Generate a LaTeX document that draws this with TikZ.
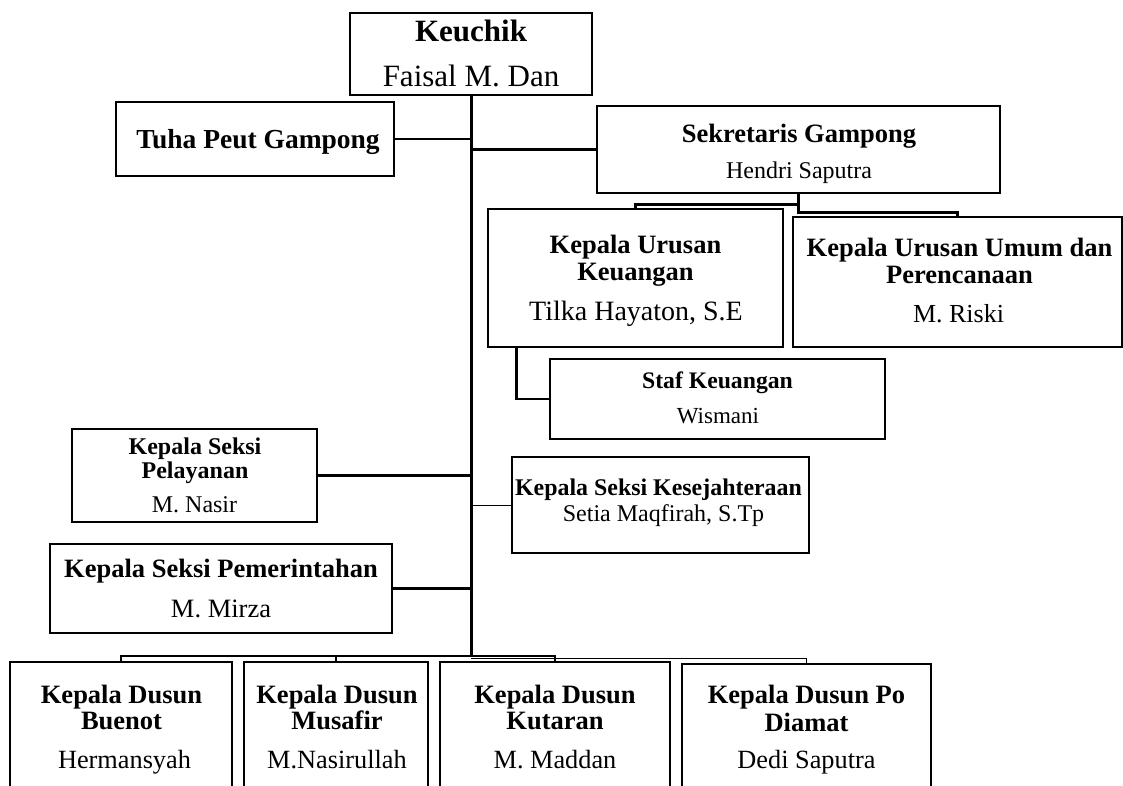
\documentclass[tikz,border=0pt]{standalone}
\usepackage{fontspec}
\setmainfont{Liberation Serif}
\usetikzlibrary{calc}
\newcommand\fsz[1]{\fontsize{#1}{#1}\selectfont}
\tikzset{
  box/.style={draw, rectangle, line width=2.7pt, inner sep=0pt, fill=white},
  conn/.style={line width=2.4pt},
  thinconn/.style={line width=1pt},
  trunk/.style={line width=3pt},
  txt/.style={anchor=base, inner sep=0pt, outer sep=0pt},
}
\begin{document}
\begin{tikzpicture}[x=1pt, y=-1pt]
\useasboundingbox (0,0) rectangle (1123,785);
\clip (0,0) rectangle (1123,785);
% box frames
\node[box, minimum width=242, minimum height=82] (kec) at (471,54) {};
\node[box, minimum width=278, minimum height=74] (tuha) at (255,139) {};
\node[box, minimum width=403, minimum height=87] (sek) at (798.5,149.5) {};
\node[box, minimum width=295, minimum height=138] (keu) at (635.5,278) {};
\node[box, minimum width=329, minimum height=130] (umum) at (957.5,282) {};
\node[box, minimum width=335, minimum height=80] (staf) at (717.5,399) {};
\node[box, minimum width=245, minimum height=93] (pel) at (194.5,475.5) {};
\node[box, minimum width=342, minimum height=89] (pem) at (221,588.5) {};
\node[box, minimum width=297, minimum height=96] (kes) at (660.5,505) {};
\node[box, minimum width=222, minimum height=158] (bue) at (121,741) {};
\node[box, minimum width=184, minimum height=158] (mus) at (336,741) {};
\node[box, minimum width=230, minimum height=158] (kut) at (555,741) {};
\node[box, minimum width=249, minimum height=156] (pod) at (806.5,742) {};
% connector points
\coordinate (tb) at (471,656);
\coordinate (tb2) at (471,658);
% connectors
\draw[trunk] (kec.south) -- (tb);
\draw[conn] (tuha.east) -- (tuha.east -| kec.south);
\draw[conn] (sek.west) -- (sek.west -| kec.south);
\draw[conn] (sek.south) -- ++(0,10) -| (keu.north);
\draw[conn] (sek.south) -- ++(0,18) -| (umum.north);
\draw[conn] ($(keu.south west)+(30,0)$) |- (staf.west);
\draw[conn] (pel.east) -- (pel.east -| kec.south);
\draw[conn] (pem.east) -- (pem.east -| kec.south);
\draw[thinconn] (kes.west) -- (kes.west -| kec.south);
\draw[conn] (bue.north) |- (tb);
\draw[conn] (mus.north) |- (tb);
\draw[conn] (kut.north) |- (tb);
\draw[thinconn] (pod.north) |- (tb2);
% texts
\node[txt] (kec1) at (471,41) {\fsz{31}\bfseries Keuchik};
\node[txt] (kec2) at (471,86) {\fsz{31}Faisal M. Dan};
\node[txt] (tuha1) at (258,148) {\fsz{27.5}\bfseries Tuha Peut Gampong};
\node[txt] (sek1) at (799,142) {\fsz{26.5}\bfseries Sekretaris Gampong};
\node[txt] (sek2) at (799,178) {\fsz{24}Hendri Saputra};
\node[txt] (keu1) at (635.5,253) {\fsz{26.5}\bfseries Kepala Urusan};
\node[txt] (keu2) at (635.5,280) {\fsz{26.5}\bfseries Keuangan};
\node[txt] (keu3) at (636,320) {\fsz{28}Tilka Hayaton, S.E};
\node[txt] (umum1) at (959.5,256) {\fsz{26.5}\bfseries Kepala Urusan Umum dan};
\node[txt] (umum2) at (959.5,283) {\fsz{26.5}\bfseries Perencanaan};
\node[txt] (umum3) at (958.5,322) {\fsz{26}M. Riski};
\node[txt] (staf1) at (717.5,388) {\fsz{23.7}\bfseries Staf Keuangan};
\node[txt] (staf2) at (718,423) {\fsz{23}Wismani};
\node[txt] (pel1) at (195,454) {\fsz{24}\bfseries Kepala Seksi};
\node[txt] (pel2) at (195,478) {\fsz{24}\bfseries Pelayanan};
\node[txt] (pel3) at (194.5,512) {\fsz{24}M. Nasir};
\node[txt] (pem1) at (221,577) {\fsz{26.5}\bfseries Kepala Seksi Pemerintahan};
\node[txt] (pem2) at (221,617) {\fsz{26.5}M. Mirza};
\node[txt] (kes1) at (658.5,495) {\fsz{23.9}\bfseries Kepala Seksi Kesejahteraan};
\node[txt] (kes2) at (663.5,521) {\fsz{24}Setia Maqfirah, S.Tp};
\node[txt] (bue1) at (121.5,703) {\fsz{26.5}\bfseries Kepala Dusun};
\node[txt] (bue2) at (121.5,729) {\fsz{26.5}\bfseries Buenot};
\node[txt] (bue3) at (124.5,768) {\fsz{26.3}Hermansyah};
\node[txt] (mus1) at (337,703) {\fsz{26.5}\bfseries Kepala Dusun};
\node[txt] (mus2) at (337,729) {\fsz{26.5}\bfseries Musafir};
\node[txt] (mus3) at (337,768) {\fsz{26.3}M.Nasirullah};
\node[txt] (kut1) at (555,703) {\fsz{26.5}\bfseries Kepala Dusun};
\node[txt] (kut2) at (555,729) {\fsz{26.5}\bfseries Kutaran};
\node[txt] (kut3) at (555,768) {\fsz{26.3}M. Maddan};
\node[txt] (pod1) at (806.5,703) {\fsz{26.5}\bfseries Kepala Dusun Po};
\node[txt] (pod2) at (806.5,731) {\fsz{26.5}\bfseries Diamat};
\node[txt] (pod3) at (806.5,768) {\fsz{26.3}Dedi Saputra};
\end{tikzpicture}
\end{document}
